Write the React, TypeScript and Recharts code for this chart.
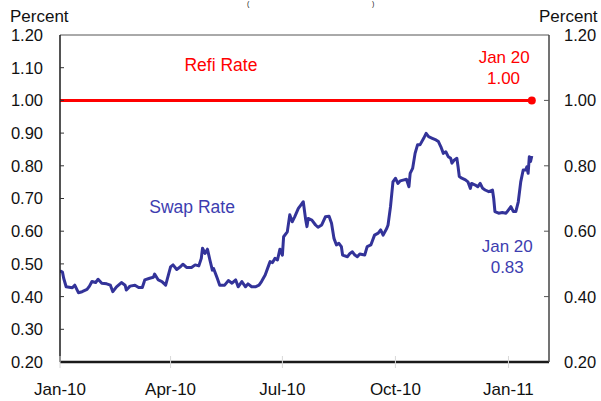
import React from 'react';
import { LineChart, Line, XAxis, YAxis, ReferenceLine, ReferenceDot } from 'recharts';

// Days counted from 1 Jan 2010
const swapDays = [0,2,3,5,10,12,15,18,22,24,26,29,31,34,38,41,43,46,50,53,54,57,61,64,67,69,73,76,77,80,83,86,90,92,95,98,100,103,107,110,113,115,116,118,120,122,124,125,128,130,134,137,140,143,145,148,151,153,156,159,162,164,167,170,171,173,175,177,179,181,182,185,187,189,191,194,196,198,200,201,202,205,208,210,213,216,219,221,223,225,227,229,230,234,236,238,240,242,244,248,250,253,256,259,261,263,266,267,269,271,273,275,277,280,282,284,285,287,289,291,293,296,298,300,303,306,308,310,312,314,316,318,319,321,323,324,325,327,330,332,334,335,338,340,342,344,346,349,352,353,354,357,360,363,364,367,369,371,373,375,377,379,380,381,382,383,384];
const swapValues = [0.479,0.475,0.456,0.43,0.427,0.435,0.412,0.415,0.422,0.432,0.446,0.443,0.453,0.441,0.439,0.435,0.415,0.43,0.443,0.435,0.42,0.432,0.435,0.428,0.428,0.451,0.456,0.459,0.469,0.451,0.446,0.435,0.491,0.497,0.483,0.491,0.499,0.489,0.489,0.497,0.494,0.517,0.548,0.532,0.545,0.512,0.481,0.486,0.456,0.435,0.435,0.449,0.441,0.451,0.43,0.446,0.43,0.439,0.43,0.43,0.435,0.446,0.466,0.497,0.507,0.504,0.517,0.512,0.545,0.527,0.583,0.598,0.65,0.629,0.644,0.67,0.68,0.69,0.634,0.614,0.639,0.634,0.619,0.612,0.619,0.644,0.646,0.624,0.578,0.558,0.563,0.553,0.527,0.522,0.532,0.537,0.527,0.522,0.53,0.527,0.553,0.558,0.588,0.594,0.604,0.588,0.609,0.619,0.675,0.751,0.762,0.746,0.754,0.757,0.759,0.736,0.777,0.792,0.838,0.864,0.864,0.884,0.899,0.889,0.884,0.879,0.874,0.858,0.838,0.843,0.828,0.823,0.808,0.818,0.823,0.797,0.767,0.762,0.757,0.751,0.731,0.746,0.741,0.736,0.746,0.731,0.726,0.721,0.726,0.70,0.66,0.655,0.657,0.655,0.66,0.675,0.66,0.66,0.69,0.751,0.787,0.787,0.797,0.777,0.828,0.813,0.83];

const refiDays = [0, 384];
const refiValues = [1.0, 1.0];

const xTickDays = [0, 90, 181, 273, 365];
const xTickLabels = ['Jan-10', 'Apr-10', 'Jul-10', 'Oct-10', 'Jan-11'];
const leftTicks = [0.2, 0.3, 0.4, 0.5, 0.6, 0.7, 0.8, 0.9, 1.0, 1.1, 1.2];
const rightTicks = [0.2, 0.4, 0.6, 0.8, 1.0, 1.2];

const swapData = swapDays.map((d, i) => ({ day: d, swap: swapValues[i] }));
const refiData = refiDays.map((d, i) => ({ day: d, refi: refiValues[i] }));

const FONT = 'Liberation Sans, Arial, sans-serif';
const BLUE = '#333399';
const BLUE_TEXT = '#3d3db0';
const RED = '#ff0000';

const LeftTick = (props: any) => {
  const { x, y, payload } = props;
  const v = payload.value;
  return (
    <g>
      <text x={x} y={y} dy="0.36em" textAnchor="end" fontFamily={FONT} fontSize={16.5} fill="#111">
        {v.toFixed(2)}
      </text>
      {v > 0.21 && v < 1.19 && <line x1={x + 17} x2={x + 21} y1={y} y2={y} stroke="#333" strokeWidth={1} />}
    </g>
  );
};

const RightTick = (props: any) => {
  const { x, y, payload } = props;
  const v = payload.value;
  return (
    <g>
      <text x={x} y={y} dy="0.36em" textAnchor="start" fontFamily={FONT} fontSize={16.5} fill="#111">
        {v.toFixed(2)}
      </text>
      {v > 0.21 && v < 1.19 && <line x1={x - 15} x2={x - 20} y1={y} y2={y} stroke="#555" strokeWidth={1} />}
    </g>
  );
};

const BottomTick = (props: any) => {
  const { x, y, payload } = props;
  const idx = xTickDays.indexOf(payload.value);
  return (
    <g>
      <line x1={x} x2={x} y1={y - 27} y2={y - 15} stroke="#d8d8d8" strokeWidth={1} />
      <text x={x} y={y} dy="0.71em" textAnchor="middle" fontFamily={FONT} fontSize={17} fill="#111">
        {idx >= 0 ? xTickLabels[idx] : ''}
      </text>
    </g>
  );
};

const RefiDot = (props: any) => {
  const { cx, cy, index } = props;
  if (index !== refiData.length - 1) return <g key={`rd-${index}`} />;
  return <circle key={`rd-${index}`} cx={cx} cy={cy} r={4} fill={RED} stroke="none" />;
};

const noShape = () => <g />;

const ann = (text: string, color: string, size = 17) => ({
  value: text,
  position: 'center' as const,
  fill: color,
  fontSize: size,
  fontFamily: FONT,
});

export default function App() {
  return (
    <div style={{ position: 'absolute', left: 0, top: 0, width: 601, height: 401, background: '#fff' }}>
      <LineChart width={601} height={401} margin={{ top: 35, right: 0, bottom: 0, left: 0 }}>
        <XAxis
          dataKey="day"
          type="number"
          domain={[0, 398]}
          allowDataOverflow
          ticks={xTickDays}
          height={39}
          tickSize={0}
          tickMargin={21}
          tickLine={false}
          axisLine={{ stroke: '#1a1a1a', strokeWidth: 2.5 }}
          tick={<BottomTick />}
          interval={0}
        />
        <YAxis
          yAxisId="left"
          orientation="left"
          domain={[0.2, 1.2]}
          ticks={leftTicks}
          width={60}
          tickSize={0}
          tickMargin={17}
          tickLine={false}
          axisLine={{ stroke: '#1a1a1a', strokeWidth: 1.5 }}
          tick={<LeftTick />}
          interval={0}
        />
        <YAxis
          yAxisId="right"
          orientation="right"
          domain={[0.2, 1.2]}
          ticks={rightTicks}
          width={52}
          tickSize={0}
          tickMargin={15}
          tickLine={false}
          axisLine={{ stroke: '#444', strokeWidth: 1.5 }}
          tick={<RightTick />}
          interval={0}
        />
        <ReferenceLine yAxisId="left" y={1.2} stroke="#555" strokeWidth={1} />
        <Line
          yAxisId="right"
          data={refiData}
          dataKey="refi"
          type="linear"
          stroke={RED}
          strokeWidth={3}
          dot={RefiDot}
          activeDot={false}
          isAnimationActive={false}
        />
        <Line
          yAxisId="left"
          data={swapData}
          dataKey="swap"
          type="linear"
          stroke={BLUE}
          strokeWidth={3}
          strokeLinejoin="round"
          dot={false}
          activeDot={false}
          isAnimationActive={false}
        />
        <ReferenceDot yAxisId="left" x={131} y={1.108} r={0} shape={noShape} label={ann('Refi Rate', RED, 17.5)} />
        <ReferenceDot yAxisId="left" x={361.5} y={1.134} r={0} shape={noShape} label={ann('Jan 20', RED)} />
        <ReferenceDot yAxisId="left" x={361} y={1.07} r={0} shape={noShape} label={ann('1.00', RED)} />
        <ReferenceDot yAxisId="left" x={107.5} y={0.6755} r={0} shape={noShape} label={ann('Swap Rate', BLUE_TEXT, 17.5)} />
        <ReferenceDot yAxisId="left" x={364} y={0.555} r={0} shape={noShape} label={ann('Jan 20', BLUE_TEXT)} />
        <ReferenceDot yAxisId="left" x={364} y={0.492} r={0} shape={noShape} label={ann('0.83', BLUE_TEXT)} />
      </LineChart>
      <svg width={601} height={401} style={{ position: 'absolute', left: 0, top: 0, pointerEvents: 'none' }}>
        <text x={247} y={6} fontFamily={FONT} fontSize={7} fill="#111">(</text>
        <text x={372} y={6} fontFamily={FONT} fontSize={7} fill="#111">)</text>
        <text x={10} y={22} fontFamily={FONT} fontSize={17} fill="#111">Percent</text>
        <text x={539} y={22} fontFamily={FONT} fontSize={17} fill="#111">Percent</text>
      </svg>
    </div>
  );
}
